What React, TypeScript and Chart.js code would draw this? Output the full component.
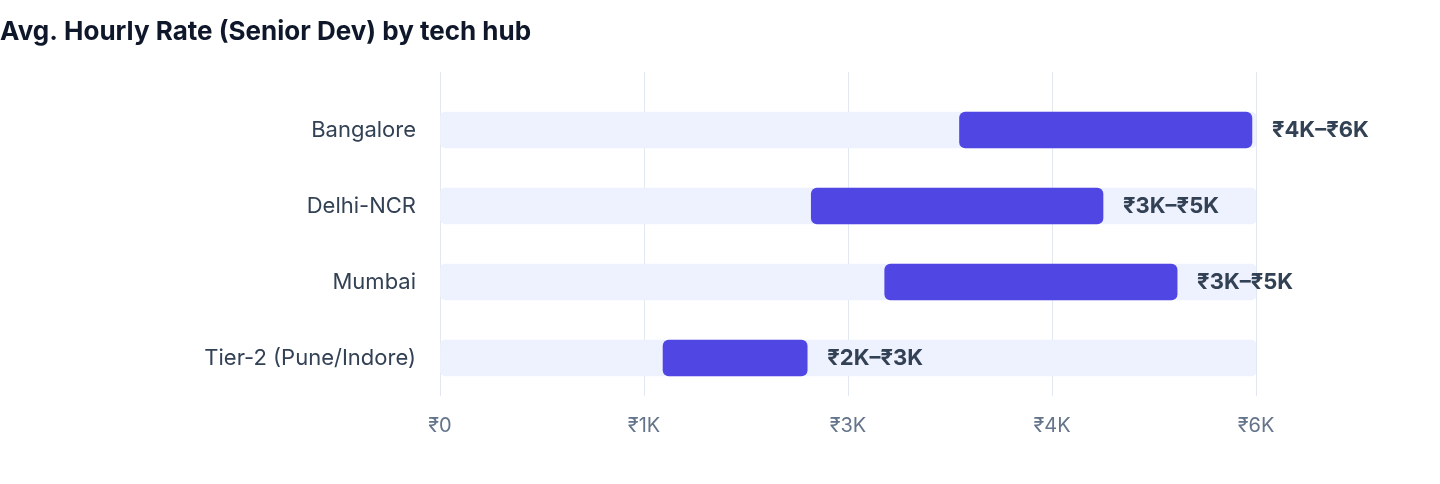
import React, { useEffect, useRef } from 'react';
import { Chart, registerables } from 'chart.js';

Chart.register(...registerables);

// Data
const hubs = ['Bangalore', 'Delhi-NCR', 'Mumbai', 'Tier-2 (Pune/Indore)'];
const rateLow = [3820, 2730, 3270, 1640];
const rateHigh = [5970, 4875, 5420, 2700];
const rangeLabels = ['₹4K–₹6K', '₹3K–₹5K', '₹3K–₹5K', '₹2K–₹3K'];
const axisMax = 6000;
const axisStep = 1500;

const FONT = 'Inter, "Noto Sans", sans-serif';

const formatRupee = (v: number) => (v === 0 ? '₹0' : `₹${Math.floor(v / 1000)}K`);

// Draws the "₹xK–₹yK" text right after each range bar
const rangeLabelPlugin = {
  id: 'rangeLabels',
  afterDatasetsDraw(chart: any) {
    const meta = chart.getDatasetMeta(1);
    const ctx = chart.ctx;
    ctx.save();
    ctx.font = `bold 22px ${FONT}`;
    ctx.fillStyle = '#334155';
    ctx.textAlign = 'left';
    ctx.textBaseline = 'middle';
    meta.data.forEach((bar: any, i: number) => {
      const { x, y, base } = bar.getProps(['x', 'y', 'base'], true);
      ctx.fillText(rangeLabels[i], Math.max(x, base) + 20, y);
    });
    ctx.restore();
  }
};

const App: React.FC = () => {
  const chartRef = useRef<HTMLCanvasElement | null>(null);
  const chartInstance = useRef<Chart | null>(null);

  useEffect(() => {
    document.body.style.margin = '0';
    if (!chartRef.current) return;
    if (chartInstance.current) chartInstance.current.destroy();

    const ctx = chartRef.current.getContext('2d');
    if (!ctx) return;

    chartInstance.current = new Chart(ctx, {
      type: 'bar',
      data: {
        labels: hubs,
        datasets: [
          {
            label: 'track',
            data: hubs.map(() => [0, axisMax]) as any,
            backgroundColor: '#EEF1FE',
            borderRadius: 5,
            borderSkipped: false,
            barThickness: 36,
            grouped: false,
            order: 2
          },
          {
            label: 'range',
            data: rateLow.map((lo, i) => [lo, rateHigh[i]]) as any,
            backgroundColor: '#5046E4',
            borderRadius: 6,
            borderSkipped: false,
            barThickness: 36,
            grouped: false,
            order: 1
          }
        ]
      },
      options: {
        indexAxis: 'y',
        animation: false,
        responsive: true,
        maintainAspectRatio: false,
        layout: {
          padding: { left: 0, right: 184, top: 0, bottom: 24 }
        },
        scales: {
          x: {
            type: 'linear',
            min: 0,
            max: axisMax,
            border: { display: false },
            grid: { color: '#E2E8F0', drawTicks: false },
            ticks: {
              stepSize: axisStep,
              padding: 18,
              color: '#64748B',
              font: { family: FONT, size: 20 },
              callback: (v: any) => formatRupee(Number(v))
            }
          },
          x2: {
            type: 'linear',
            position: 'top',
            min: 0,
            max: axisMax,
            border: { display: false },
            grid: { color: '#E2E8F0', drawOnChartArea: false, drawTicks: true, tickLength: 20 },
            ticks: { display: false, stepSize: axisStep }
          },
          y: {
            border: { display: false },
            grid: { display: false, drawTicks: false },
            ticks: {
              padding: 24,
              color: '#334155',
              font: { family: FONT, size: 22 }
            },
            afterFit: (scale: any) => {
              scale.width = 440;
            }
          }
        },
        plugins: {
          legend: { display: false },
          tooltip: { enabled: false },
          title: {
            display: true,
            text: 'Avg. Hourly Rate (Senior Dev) by tech hub',
            align: 'start',
            color: '#0F172A',
            font: { family: FONT, size: 26, weight: 'bold' },
            padding: { top: 16.6, bottom: 24.2 }
          }
        }
      },
      plugins: [rangeLabelPlugin]
    });

    return () => {
      if (chartInstance.current) {
        chartInstance.current.destroy();
        chartInstance.current = null;
      }
    };
  }, []);

  return (
    <div style={{ height: '480px', width: '100%' }}>
      <canvas ref={chartRef} />
    </div>
  );
};

export default App;
